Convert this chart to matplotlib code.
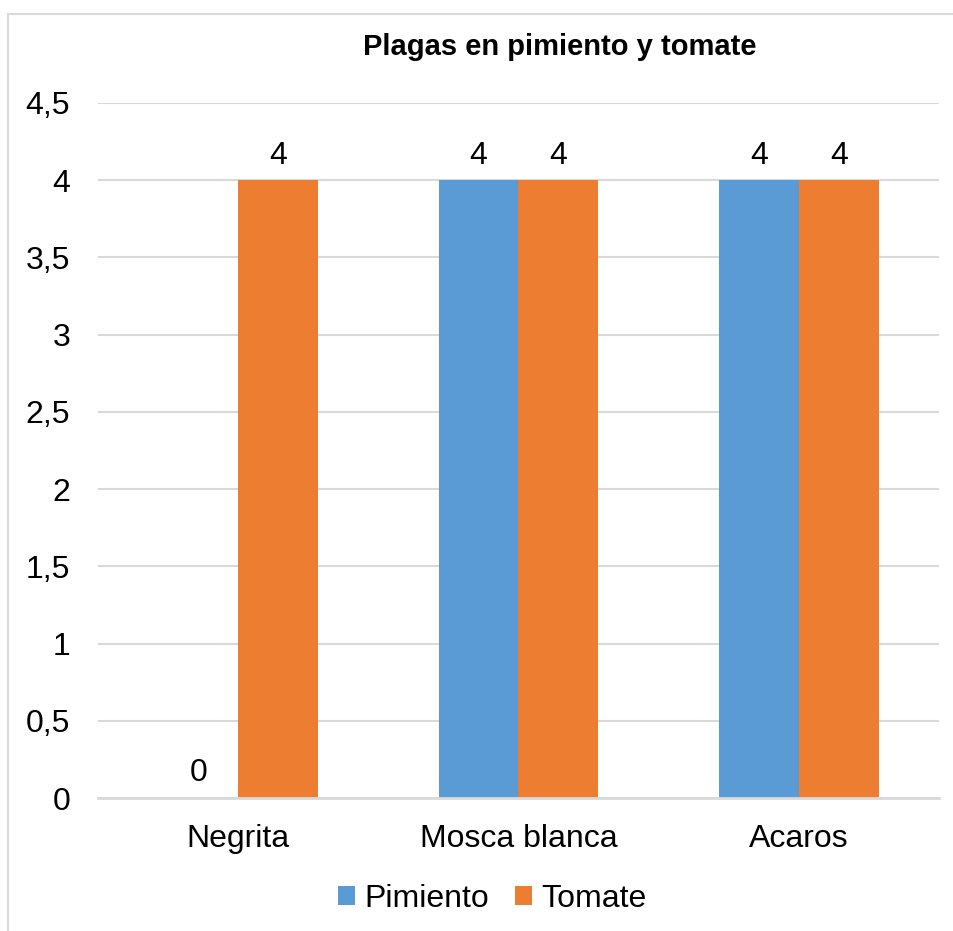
import numpy as np
import matplotlib
matplotlib.use("Agg")
import matplotlib.pyplot as plt
from matplotlib.patches import Patch, Rectangle
from matplotlib.ticker import FuncFormatter, MultipleLocator

plt.rcParams['font.family'] = ['Liberation Sans', 'DejaVu Sans']

# datos del gráfico
plagas = ["Negrita", "Mosca blanca", "Acaros"]
pimiento = [0, 4, 4]
tomate = [4, 4, 4]
series = ["Pimiento", "Tomate"]
colores = ["#5B9BD5", "#ED7D31"]

W, H = 954, 931
fig = plt.figure(figsize=(W / 100, H / 100), dpi=100)

# marco del gráfico (recortado a la derecha y abajo)
fig.patches.append(Rectangle((8 / W, -0.1), 1.2, 1.1 - 14 / H, transform=fig.transFigure,
                             fill=False, edgecolor="#D9D9D9", linewidth=1.5))

ax = fig.add_axes([98 / W, 1 - 798 / H, (939 - 98) / W, (798 - 103) / H])

x = np.arange(len(plagas))
ancho = 0.285
b1 = ax.bar(x - ancho / 2, pimiento, ancho, color=colores[0], label=series[0], zorder=3)
b2 = ax.bar(x + ancho / 2, tomate, ancho, color=colores[1], label=series[1], zorder=3)
ax.bar_label(b1, padding=7, fontsize=23)
ax.bar_label(b2, padding=7, fontsize=23)

ax.set_xlim(-0.5, 2.5)
ax.set_ylim(0, 4.5)
ax.yaxis.set_major_locator(MultipleLocator(0.5))
ax.yaxis.set_major_formatter(FuncFormatter(lambda v, p: f"{v:g}".replace(".", ",")))
ax.set_xticks(x)
ax.set_xticklabels(plagas)
ax.tick_params(axis="y", length=0, pad=20, labelsize=23)
ax.tick_params(axis="x", length=0, pad=19, labelsize=23)

ax.grid(axis="y", color="#D9D9D9", linewidth=1.5, zorder=0)
for lado in ["top", "right", "left"]:
    ax.spines[lado].set_visible(False)
ax.spines["bottom"].set_color("#D9D9D9")
ax.spines["bottom"].set_linewidth(2)
ax.spines["bottom"].set_zorder(4)

fig.text(560 / W, 1 - 47 / H, "Plagas en pimiento y tomate", ha="center", va="center",
         fontsize=21, fontweight="bold")

manejadores = [Patch(facecolor=c, label=s) for c, s in zip(colores, series)]
fig.legend(handles=manejadores, loc="center", bbox_to_anchor=(492 / W, 1 - 899 / H), ncol=2,
           frameon=False, fontsize=23, handlelength=0.55, handleheight=0.55,
           handletextpad=0.28, columnspacing=0.8)

fig.savefig("out.png", dpi=100, facecolor="white")
